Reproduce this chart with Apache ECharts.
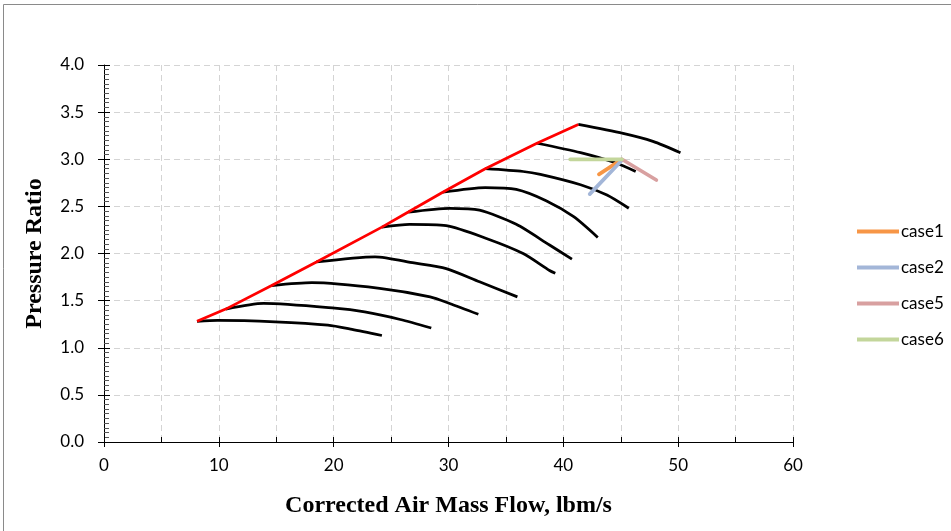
<!DOCTYPE html>
<html>
<head>
<meta charset="utf-8">
<script src="https://cdn.jsdelivr.net/npm/echarts@6/dist/echarts.min.js"></script>
<style>
  html, body { margin: 0; padding: 0; background: #fff; }
  #chart { width: 951px; height: 531px; }
</style>
</head>
<body>
<div id="chart"></div>
<script>
// Compressor map: constant-speed lines, surge line and operating cases
const surgeFlow = [8.1, 10.6, 14.6, 18.5, 24.2, 26.5, 29.5, 33.2, 37.7, 41.3];
const surgePR   = [1.28, 1.41, 1.66, 1.91, 2.28, 2.44, 2.65, 2.90, 3.17, 3.37];

const speed1Flow  = [8.1, 9.9, 14.9, 19.5, 21.6, 24.2];
const speed1PR    = [1.28, 1.29, 1.275, 1.24, 1.195, 1.13];
const speed2Flow  = [10.6, 13.9, 20.1, 22.7, 25.8, 28.5];
const speed2PR    = [1.41, 1.47, 1.42, 1.38, 1.30, 1.21];
const speed3Flow  = [14.6, 18.1, 24.0, 28.4, 30.1, 32.6];
const speed3PR    = [1.66, 1.69, 1.63, 1.54, 1.47, 1.355];
const speed4Flow  = [18.5, 23.6, 27.0, 29.8, 32.7, 36.0];
const speed4PR    = [1.91, 1.965, 1.90, 1.84, 1.70, 1.54];
const speed5Flow  = [24.2, 26.6, 29.8, 33.3, 36.5, 38.8, 39.3];
const speed5PR    = [2.28, 2.31, 2.295, 2.16, 2.00, 1.82, 1.79];
const speed6Flow  = [26.5, 30.1, 32.7, 35.9, 38.8, 40.75];
const speed6PR    = [2.44, 2.48, 2.46, 2.31, 2.09, 1.94];
const speed7Flow  = [29.5, 33.2, 35.9, 38.5, 40.9, 43.0];
const speed7PR    = [2.65, 2.70, 2.68, 2.56, 2.39, 2.17];
const speed8Flow  = [33.2, 36.5, 38.0, 41.5, 43.8, 45.7];
const speed8PR    = [2.90, 2.87, 2.84, 2.73, 2.62, 2.48];
const speed9Flow  = [37.7, 41.5, 44.6, 46.3];
const speed9PR    = [3.17, 3.07, 2.96, 2.87];
const speed10Flow = [41.3, 45.2, 47.8, 50.2];
const speed10PR   = [3.37, 3.275, 3.19, 3.07];

const caseNames = ['case1', 'case2', 'case5', 'case6'];
const caseColors = ['#F79646', '#A3B6D8', '#D8A0A0', '#C3D69B'];
const case1Flow = [43.1, 45.0];  const case1PR = [2.84, 2.99];
const case2Flow = [42.3, 45.1];  const case2PR = [2.63, 2.99];
const case5Flow = [45.1, 48.1];  const case5PR = [3.00, 2.78];
const case6Flow = [40.6, 45.1];  const case6PR = [3.00, 3.00];

const xTickValues = [0, 10, 20, 30, 40, 50, 60];
const yTickValues = [0.0, 0.5, 1.0, 1.5, 2.0, 2.5, 3.0, 3.5, 4.0];

function pairs(xs, ys) { return xs.map((x, i) => [x, ys[i]]); }

const speedLines = [
  [speed1Flow, speed1PR], [speed2Flow, speed2PR], [speed3Flow, speed3PR],
  [speed4Flow, speed4PR], [speed5Flow, speed5PR], [speed6Flow, speed6PR],
  [speed7Flow, speed7PR], [speed8Flow, speed8PR], [speed9Flow, speed9PR],
  [speed10Flow, speed10PR]
];
const caseLines = [[case1Flow, case1PR], [case2Flow, case2PR], [case5Flow, case5PR], [case6Flow, case6PR]];

const gridBox = { left: 104, top: 65, right: 158, bottom: 89 };
const tickFont = { fontFamily: 'Lato, "Open Sans", sans-serif', fontSize: 17, color: '#000' };
const titleFont = { fontFamily: '"Liberation Serif", "Times New Roman", serif', fontSize: 24, fontWeight: 'bold', color: '#000' };
const dashed = { color: '#d4d4d4', type: [6, 4], width: 1 };

const series = [];
speedLines.forEach(([xs, ys], i) => {
  series.push({
    name: 'speed' + (i + 1), type: 'line', xAxisIndex: 0, yAxisIndex: 0,
    data: pairs(xs, ys), showSymbol: false, smooth: 0.25, silent: true,
    lineStyle: { color: '#000', width: 2.75 }, z: 3
  });
});
series.push({
  name: 'surge', type: 'line', xAxisIndex: 0, yAxisIndex: 0,
  data: pairs(surgeFlow, surgePR), showSymbol: false, silent: true,
  lineStyle: { color: '#FF0000', width: 2.75 }, z: 4
});
caseLines.forEach(([xs, ys], i) => {
  series.push({
    name: caseNames[i], type: 'line', xAxisIndex: 0, yAxisIndex: 0,
    data: pairs(xs, ys), showSymbol: false, silent: true,
    color: caseColors[i],
    lineStyle: { color: caseColors[i], width: 3.75, cap: 'round' }, z: 5 + i
  });
});

const chart = echarts.init(document.getElementById('chart'), null, { renderer: 'canvas' });
chart.setOption({
  animation: false,
  backgroundColor: '#fff',
  graphic: [{
    type: 'rect', shape: { x: 3.5, y: 4.5, width: 1000, height: 600 },
    style: { fill: 'none', stroke: '#8a8a8a', lineWidth: 1 }, z: -1, silent: true
  }],
  grid: [
    Object.assign({}, gridBox),
    Object.assign({}, gridBox)
  ],
  legend: {
    data: caseNames, orient: 'vertical', left: 852, top: 218,
    itemWidth: 42, itemHeight: 4, itemGap: 19, icon: 'rect',
    textStyle: Object.assign({}, tickFont, { lineHeight: 17, padding: [0, 0, 0, -3] })
  },
  xAxis: [{
    type: 'value', gridIndex: 0, min: 0, max: 60, interval: 10,
    name: 'Corrected Air Mass Flow, lbm/s', nameLocation: 'middle', nameGap: 52,
    nameTextStyle: titleFont,
    axisLine: { show: true, onZero: false, lineStyle: { color: '#000', width: 1 } },
    axisTick: { show: true, length: 5, inside: false, lineStyle: { color: '#000' } },
    axisLabel: Object.assign({ margin: 15, formatter: v => xTickValues.includes(v) ? String(v) : '' }, tickFont),
    splitLine: { show: true, lineStyle: dashed },
    minorSplitLine: { show: true, lineStyle: dashed },
    minorTick: { show: false, splitNumber: 2 }
  }, {
    type: 'value', gridIndex: 1, min: 0, max: 60, interval: 10,
    axisLine: { show: false }, axisLabel: { show: false }, splitLine: { show: false },
    axisTick: { show: true, inside: true, length: 5, lineStyle: { color: '#000' } },
    minorTick: { show: true, splitNumber: 2, length: 5, lineStyle: { color: '#000' } }
  }],
  yAxis: [{
    type: 'value', gridIndex: 0, min: 0, max: 4, interval: 0.5,
    name: 'Pressure Ratio', nameLocation: 'middle', nameGap: 57,
    nameTextStyle: titleFont,
    axisLine: { show: true, onZero: false, lineStyle: { color: '#000', width: 1 } },
    axisTick: { show: true, length: 6, inside: false, lineStyle: { color: '#000' } },
    axisLabel: Object.assign({ margin: 20, formatter: v => yTickValues.includes(+v.toFixed(1)) ? v.toFixed(1) : '' }, tickFont),
    splitLine: { show: true, lineStyle: dashed }
  }, {
    type: 'value', gridIndex: 1, min: 0, max: 4, interval: 0.5,
    axisLine: { show: false }, axisLabel: { show: false }, splitLine: { show: false },
    axisTick: { show: true, inside: true, length: 6, lineStyle: { color: '#000' } },
    minorTick: { show: true, splitNumber: 10, length: 5, lineStyle: { color: '#555' } }
  }],
  series: series
});
</script>
</body>
</html>
